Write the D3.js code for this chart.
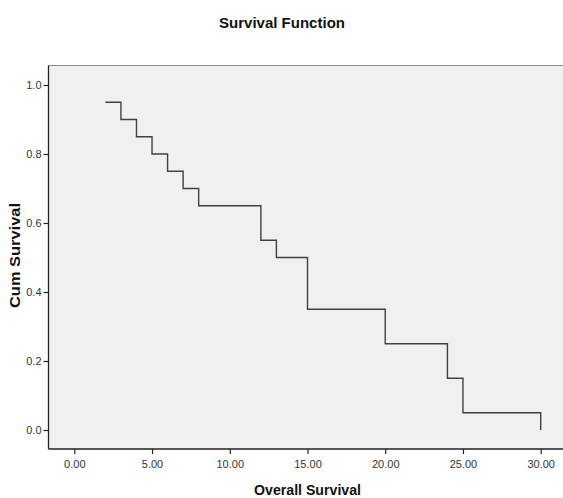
<!DOCTYPE html>
<html>
<head>
<meta charset="utf-8">
<script src="https://cdn.jsdelivr.net/npm/d3@7"></script>
<style>
  body { margin: 0; background: #fff; }
  text { font-family: Arial, "Liberation Sans", sans-serif; }
</style>
</head>
<body>
<div id="chart"></div>
<script>
// Step points of the Kaplan-Meier curve: time and cumulative survival after it.
var times = [2, 3, 4, 5, 6, 7, 8, 12, 13, 15, 20, 24, 25, 30, 30];
var survival = [0.95, 0.90, 0.85, 0.80, 0.75, 0.70, 0.65, 0.55, 0.50, 0.35, 0.25, 0.15, 0.05, 0.05, 0.0];
var xTicks = [0, 5, 10, 15, 20, 25, 30];
var yTicks = [0, 0.2, 0.4, 0.6, 0.8, 1.0];

var width = 563, height = 498;
var frame = {left: 48.5, top: 65.5, right: 570, bottom: 449};

var svg = d3.select("#chart").append("svg")
        .attr("width", width)
        .attr("height", height);

var x = d3.scaleLinear().domain([0, 30]).range([74.3, 540.7]);
var y = d3.scaleLinear().domain([0, 1]).range([430, 85]);

// Plot background and frame.
svg.append("rect")
        .attr("x", frame.left)
        .attr("y", frame.top)
        .attr("width", frame.right - frame.left)
        .attr("height", frame.bottom - frame.top)
        .style("fill", "#f0f0f0");
svg.append("line")
        .attr("x1", frame.left).attr("x2", frame.right)
        .attr("y1", frame.top).attr("y2", frame.top)
        .style("stroke", "#8a8a8a").style("stroke-width", 1.2);

// Axes.
var xAxis = svg.append("g")
        .attr("transform", "translate(0," + frame.bottom + ")")
        .call(d3.axisBottom(x).tickValues(xTicks).tickSize(5).tickPadding(6)
                .tickFormat(d3.format(".2f")));
var yAxis = svg.append("g")
        .attr("transform", "translate(" + frame.left + ",0)")
        .call(d3.axisLeft(y).tickValues(yTicks).tickSize(5).tickPadding(2)
                .tickFormat(d3.format(".1f")));
[xAxis, yAxis].forEach(function(g) {
    g.select(".domain").remove();
    g.selectAll(".tick line").style("stroke", "#222").style("stroke-width", 1.2);
    g.selectAll(".tick text").style("fill", "#333").style("font-size", "11px")
            .style("font-family", "Arial, 'Liberation Sans', sans-serif");
});
svg.append("line")
        .attr("x1", frame.left).attr("x2", frame.left)
        .attr("y1", frame.top).attr("y2", frame.bottom)
        .style("stroke", "#222").style("stroke-width", 1.3);
svg.append("line")
        .attr("x1", frame.left).attr("x2", frame.right)
        .attr("y1", frame.bottom).attr("y2", frame.bottom)
        .style("stroke", "#222").style("stroke-width", 1.3);

// Survival step curve.
var pts = times.map(function(t, i) { return [t, survival[i]]; });
var line = d3.line()
        .x(function(d) { return x(d[0]); })
        .y(function(d) { return y(d[1]); })
        .curve(d3.curveStepAfter);
svg.append("path")
        .datum(pts)
        .attr("d", line)
        .style("fill", "none")
        .style("stroke", "#404040")
        .style("stroke-width", 1.4);

// Titles.
svg.append("text")
        .attr("x", 282).attr("y", 28)
        .attr("text-anchor", "middle")
        .attr("textLength", 126).attr("lengthAdjust", "spacingAndGlyphs")
        .style("font-size", "15px").style("font-weight", "bold").style("fill", "#111")
        .text("Survival Function");
svg.append("text")
        .attr("x", 307.5).attr("y", 495)
        .attr("text-anchor", "middle")
        .attr("textLength", 107).attr("lengthAdjust", "spacingAndGlyphs")
        .style("font-size", "15px").style("font-weight", "bold").style("fill", "#111")
        .text("Overall Survival");
svg.append("text")
        .attr("transform", "translate(20,255.5) rotate(-90)")
        .attr("text-anchor", "middle")
        .attr("textLength", 105).attr("lengthAdjust", "spacingAndGlyphs")
        .style("font-size", "15px").style("font-weight", "bold").style("fill", "#111")
        .text("Cum Survival");
</script>
</body>
</html>
